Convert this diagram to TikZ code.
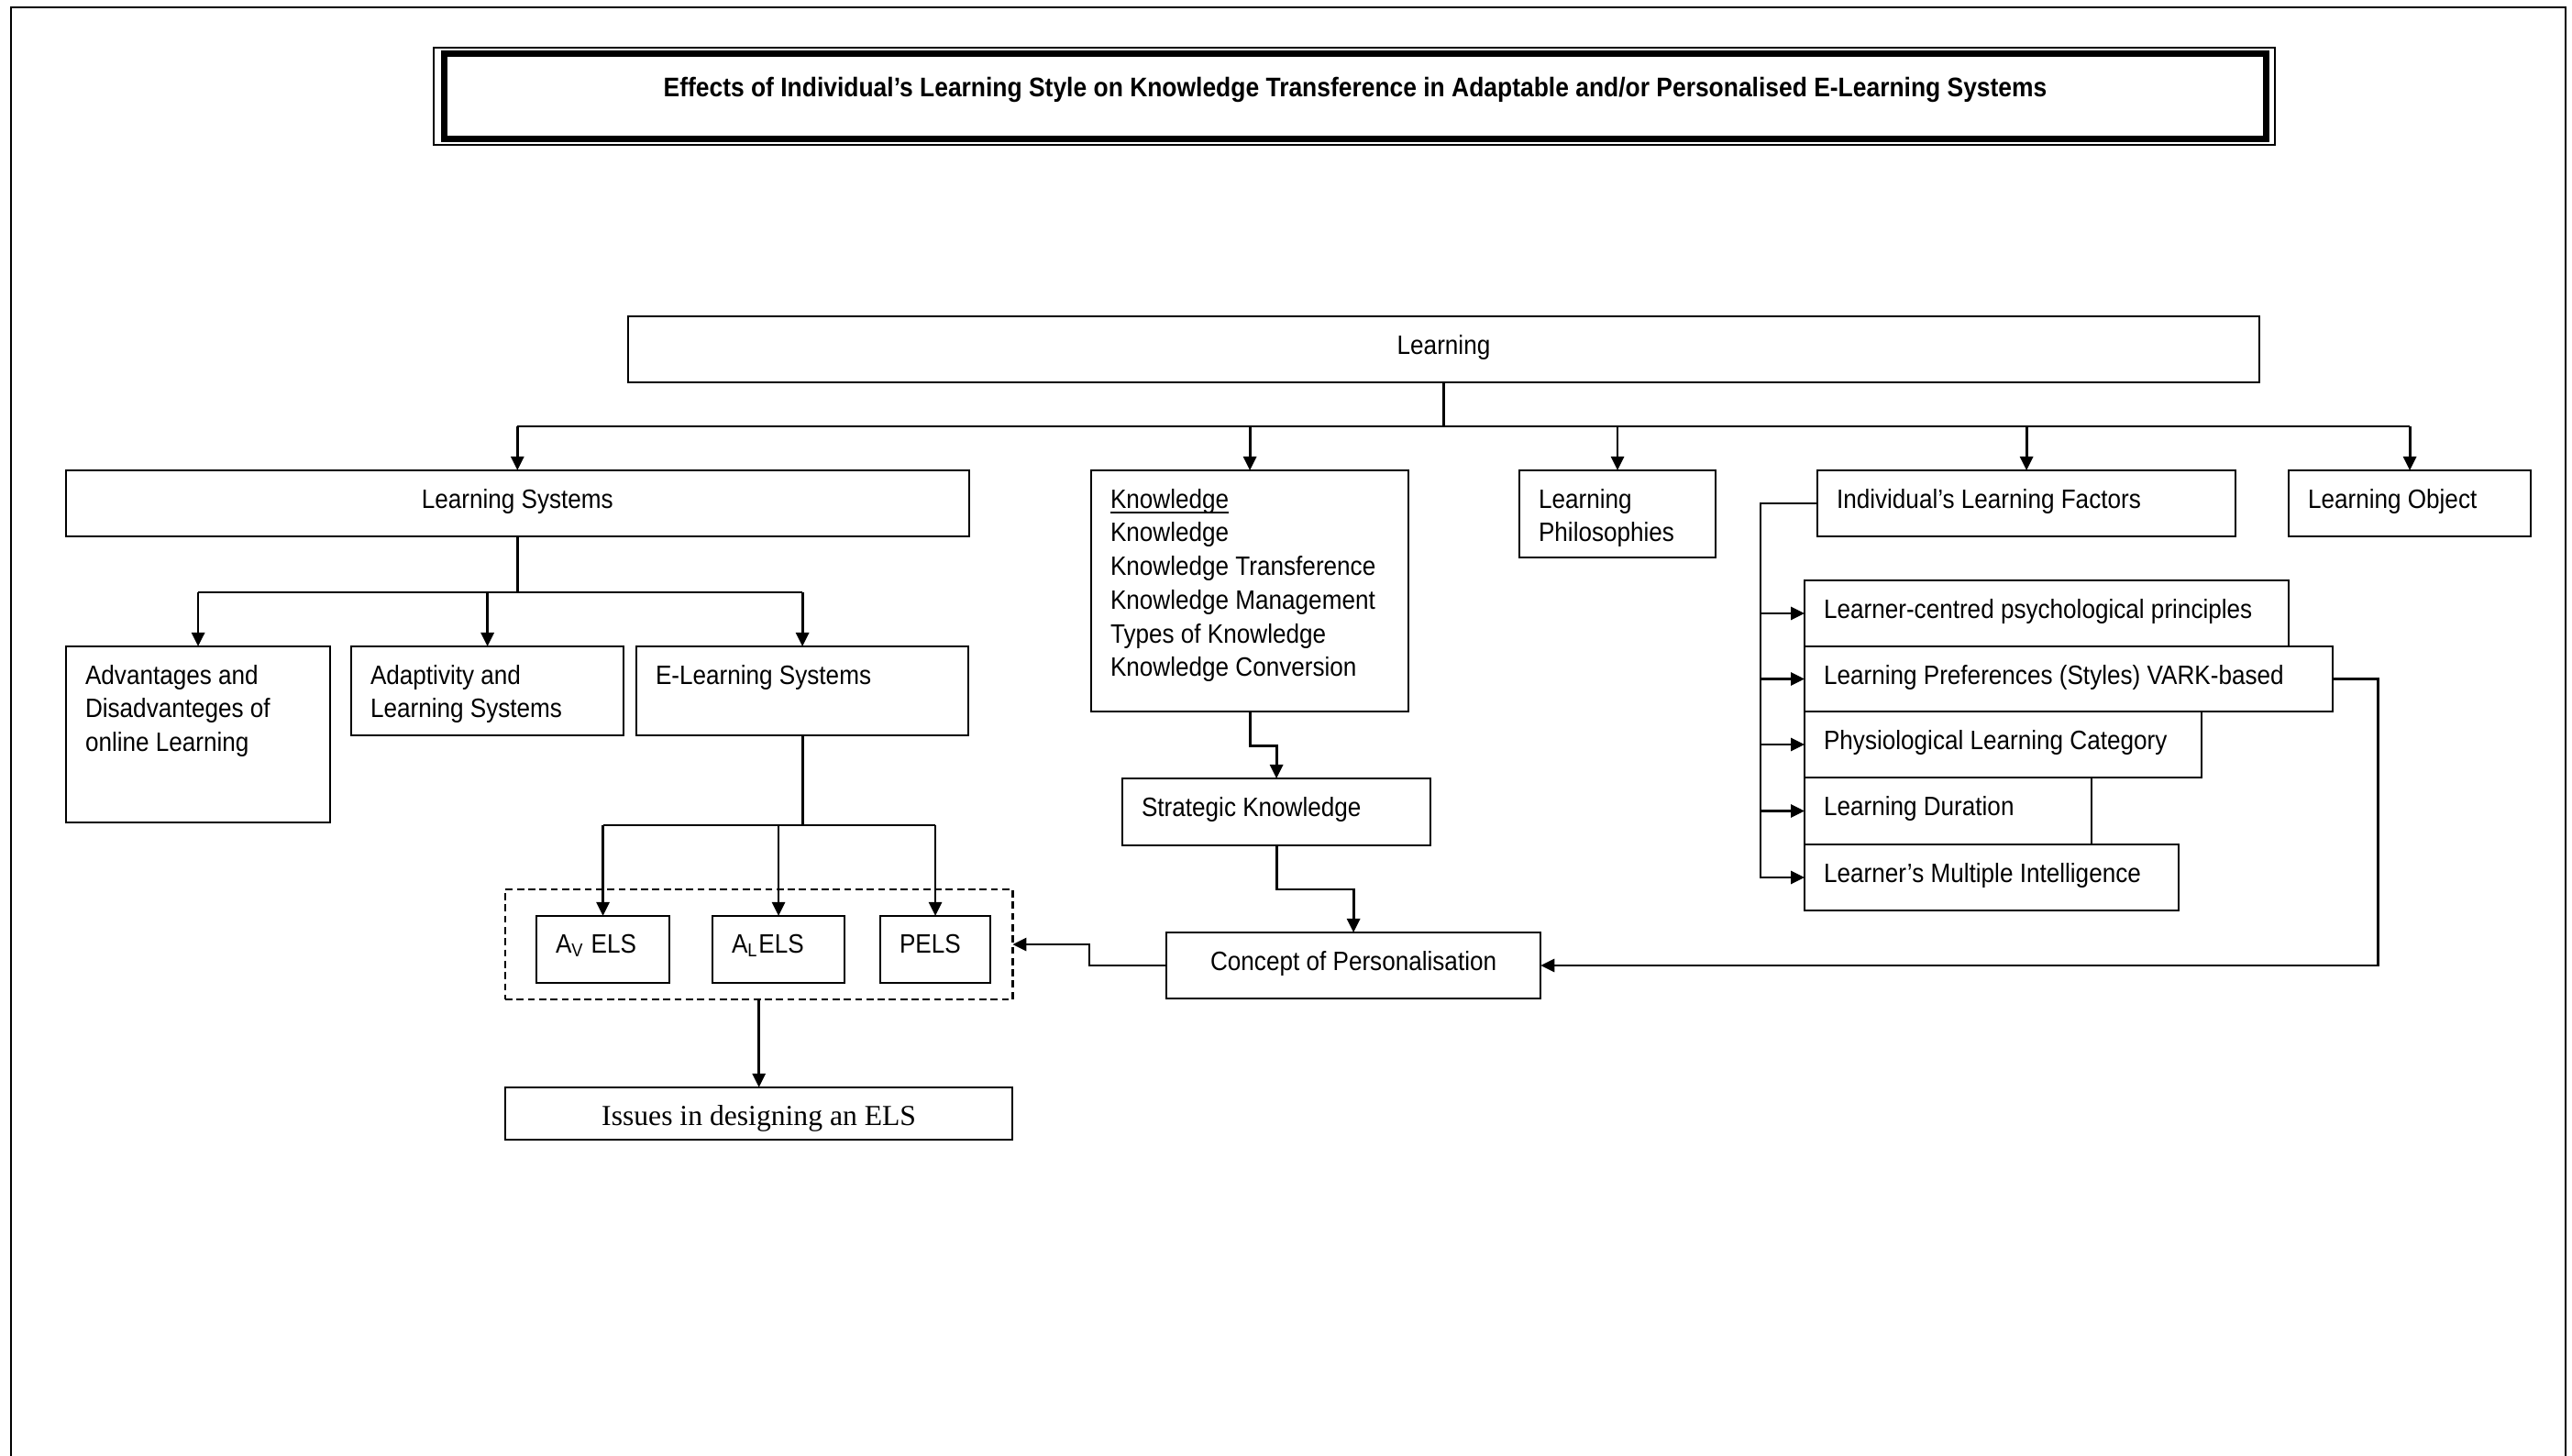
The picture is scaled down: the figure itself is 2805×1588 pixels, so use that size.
\documentclass[tikz,border=0pt]{standalone}
\usepackage{fontspec}
\setmainfont{Liberation Sans}[FakeStretch=0.9]
\newfontfamily\timesfont{Liberation Serif}
\usetikzlibrary{arrows.meta}

\newlength{\padx}\setlength{\padx}{0.21cm}
\newlength{\pady}\setlength{\pady}{0.2cm}
% box text: width, height, text (top aligned)
\newcommand{\lbox}[3]{\parbox[t][#2][t]{#1}{\vskip\pady\baselineskip=10.45pt\raggedright\leftskip=\padx #3}}
\newcommand{\cbox}[3]{\parbox[t][#2][t]{#1}{\vskip\pady\baselineskip=10.45pt\centering #3}}
\newcommand{\uword}[1]{\underline{\raisebox{0pt}[\height][0pt]{#1}}}

\begin{document}
\begin{tikzpicture}[x=0.01cm, y=-0.01cm, >={Triangle[length=1.5mm,width=1.4mm]},
  font=\fontsize{8.25}{10.45}\selectfont,
  box/.style={draw, line width=0.6pt, anchor=north west, inner sep=0pt, outer sep=0pt},
  link/.style={line width=0.8pt},
  group/.style={draw, dash pattern=on 2.2pt off 1.3pt, line width=0.7pt, anchor=north west, inner sep=0pt, outer sep=0pt}]
  \useasboundingbox (0,0) rectangle (2805,1588);
  \draw[line width=0.8pt] (12,1588) -- (12,8) -- (2798,8) -- (2798,1588);

  % title
  \node[draw, line width=2pt, outer sep=0pt, minimum width=19.85cm, minimum height=0.92cm,
        text height=6pt, text depth=5.7pt,
        font=\bfseries\fontsize{8.35}{10}\selectfont] (title) at (1478,105)
    {Effects of Individual's Learning Style on Knowledge Transference in Adaptable and/or Personalised E-Learning Systems};
  \draw[line width=0.5pt] ([shift={(-12,-7)}]title.north west) rectangle ([shift={(10,7)}]title.south east);

  % first row
  \node[box] (learn) at (685,345) {\cbox{17.78cm}{0.72cm}{Learning}};
  \node[box] (ls) at (72,513) {\cbox{9.84cm}{0.72cm}{Learning Systems}};
  \node[box] (know) at (1190,513) {\lbox{3.46cm}{2.63cm}{\uword{Knowledge}\\ Knowledge\\ Knowledge Transference\\ Knowledge Management\\ Types of Knowledge\\ Knowledge Conversion}};
  \node[box] (phil) at (1657,513) {\lbox{2.14cm}{0.95cm}{Learning\\ Philosophies}};
  \node[box] (ilf) at (1982,513) {\lbox{4.56cm}{0.72cm}{Individual's Learning Factors}};
  \node[box] (lo) at (2496,513) {\lbox{2.64cm}{0.72cm}{Learning Object}};

  % learning systems
  \node[box] (adv) at (72,705) {\lbox{2.88cm}{1.92cm}{Advantages and\\ Disadvanteges of\\ online Learning}};
  \node[box] (adapt) at (383,705) {\lbox{2.97cm}{0.97cm}{Adaptivity and\\ Learning Systems}};
  \node[box] (els) at (694,705) {\lbox{3.62cm}{0.97cm}{E-Learning Systems}};

  \node[group, minimum width=5.53cm, minimum height=1.2cm] (grp) at (551,970) {};
  \node[box] (av) at (585,999) {\lbox{1.45cm}{0.73cm}{A\textsubscript{V} ELS}};
  \node[box] (al) at (777,999) {\lbox{1.44cm}{0.73cm}{A\textsubscript{L}ELS}};
  \node[box] (pels) at (960,999) {\lbox{1.20cm}{0.73cm}{PELS}};
  \node[box] (issues) at (551,1186) {\cbox{5.53cm}{0.57cm}{\timesfont\fontsize{9}{11}\selectfont Issues in designing an ELS}};

  % knowledge
  \node[box] (strat) at (1224,849) {\lbox{3.36cm}{0.73cm}{Strategic Knowledge}};
  \node[box] (concept) at (1272,1017) {\cbox{4.08cm}{0.72cm}{Concept of Personalisation}};

  % learning factors
  \node[box] (lc) at (1968,633) {\lbox{5.28cm}{0.72cm}{Learner-centred psychological principles}};
  \node[box] (lp) at (1968,705) {\lbox{5.76cm}{0.71cm}{Learning Preferences (Styles) VARK-based}};
  \node[box] (plc) at (1968,776) {\lbox{4.33cm}{0.72cm}{Physiological Learning Category}};
  \node[box] (ld) at (1968,848) {\lbox{3.13cm}{0.73cm}{Learning Duration}};
  \node[box] (mi) at (1968,921) {\lbox{4.08cm}{0.72cm}{Learner's Multiple Intelligence}};

  % connectors
  \draw[link] (learn.south) -- ++(0,48) coordinate (bus);
  \draw[link] (ls.north |- bus) -- (lo.north |- bus);
  \foreach \n in {ls,know,phil,ilf,lo}
    \draw[link,->] (\n.north |- bus) -- (\n.north);

  \draw[link] (ls.south) -- ++(0,61) coordinate (lsbus);
  \draw[link] (adv.north |- lsbus) -- (els.north |- lsbus);
  \foreach \n in {adv,adapt,els}
    \draw[link,->] (\n.north |- lsbus) -- (\n.north);

  \draw[link] (els.south) -- ++(0,98) coordinate (elsbus);
  \draw[link] (av.north |- elsbus) -- (pels.north |- elsbus);
  \foreach \n in {av,al,pels}
    \draw[link,->] (\n.north |- elsbus) -- (\n.north);
  \draw[link,->] (grp.south) -- (issues.north);

  \draw[link,->] (know.south) -- ++(0,37) -| (strat.north);
  \draw[link,->] (strat.south) -- ++(0,48) -| (concept.north);
  \draw[link,->] (concept.west) -- ++(-84,0) |- (grp.east);

  \coordinate (spine) at ([xshift=-0.62cm]ilf.west);
  \draw[link,->] (ilf.west) -- (spine) |- (mi.west);
  \foreach \n in {lc,lp,plc,ld}
    \draw[link,->] (spine |- \n.west) -- (\n.west);
  \draw[link,->] (lp.east) -- ++(49,0) |- (concept.east);
\end{tikzpicture}
\end{document}
